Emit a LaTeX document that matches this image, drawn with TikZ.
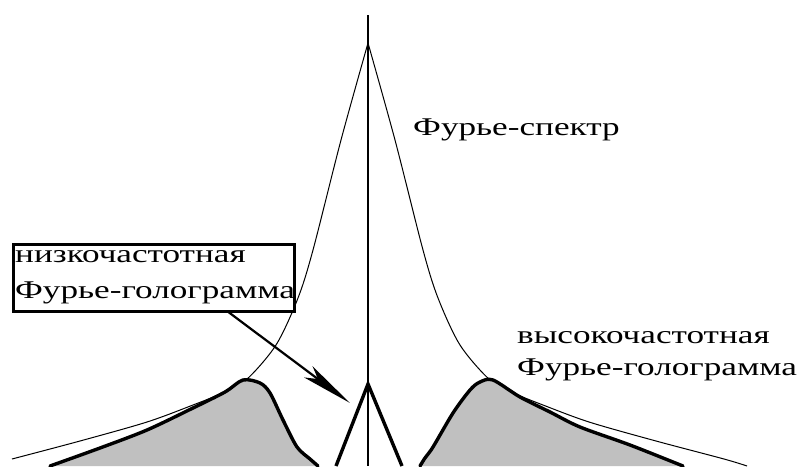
\documentclass[tikz,border=0pt]{standalone}
\usepackage{fontspec}
\newfontfamily\wideserif[FakeStretch=1.38]{Liberation Serif}
\usetikzlibrary{arrows.meta}
\definecolor{fillgray}{HTML}{C0C0C0}
\tikzset{
  thinline/.style={line width=1pt, black},
  thickline/.style={line width=3.4pt, black, line join=round, line cap=round},
  lbl/.style={anchor=base west, inner sep=0pt, font=\wideserif\fontsize{25.5}{30}\selectfont},
  holo/.style={fill=fillgray, draw=none}
}
\begin{document}
\begin{tikzpicture}[x=1pt, y=-1pt]
\useasboundingbox (0,0) rectangle (797,466);
% thin Fourier spectrum curve
\draw[thinline] plot[smooth, tension=0.5] coordinates {(12,459) (80,441) (147,422) (193,405) (220,394) (246,380) (276,345) (298,298) (313,250) (341,140) (368,43)};
\draw[thinline] plot[smooth, tension=0.5] coordinates {(368,43) (395,140) (423,250) (438,298) (460,345) (490,380) (516,394) (543,405) (589,422) (656,441) (724,459) (747,466)};
% left low-frequency hologram (gray)
\fill[holo] plot[smooth, tension=0.5] coordinates {(50,466) (100,448) (147,430) (193,408) (225,392) (243,380) (260,383) (270,393) (283,420) (297,447) (310,459) (318,466)} -- cycle;
\draw[thickline] plot[smooth, tension=0.5] coordinates {(50,466) (100,448) (147,430) (193,408) (225,392) (243,380) (260,383) (270,393) (283,420) (297,447) (310,459) (318,466)};
% right high-frequency hologram (gray)
\fill[holo] plot[smooth, tension=0.5] coordinates {(420,466) (425,458) (433,447) (453,413) (470,390) (480,382) (493,380) (520,397) (550,412) (580,427) (630,445) (683,466)} -- cycle;
\draw[thickline] plot[smooth, tension=0.5] coordinates {(420,466) (425,458) (433,447) (453,413) (470,390) (480,382) (493,380) (520,397) (550,412) (580,427) (630,445) (683,466)};
% central peak
\coordinate (tl) at (336,466);
\coordinate (tt) at (368,384);
\coordinate (tr) at (402,466);
\draw[line width=3.4pt, line join=miter] (tl) -- (tt) -- (tr);
% vertical axis
\coordinate (axtop) at (368,15);
\coordinate (axbot) at (368,466);
\draw[line width=1.4pt] (axtop) -- (axbot);
% labels
\node[lbl] (spec) at (413,135) {Фурье-спектр};
\node[lbl] (hi1) at (517,343) {высокочастотная};
\node[lbl] (hi2) at (517,375) {Фурье-голограмма};
\node[draw, line width=2.6pt, fill=white, anchor=north west, minimum width=281pt, minimum height=67pt, inner sep=0pt] (lowbox) at (12,243) {};
\node[lbl] (lo1) at (15,262) {низкочастотная};
\node[lbl] (lo2) at (15,298) {Фурье-голограмма};
% arrow
\coordinate (arrs) at (227,311);
\coordinate (arre) at (350,403);
\draw[line width=2.2pt, -{Stealth[length=52pt, width=14pt, inset=12pt]}] (arrs) -- (arre);
\end{tikzpicture}
\end{document}
